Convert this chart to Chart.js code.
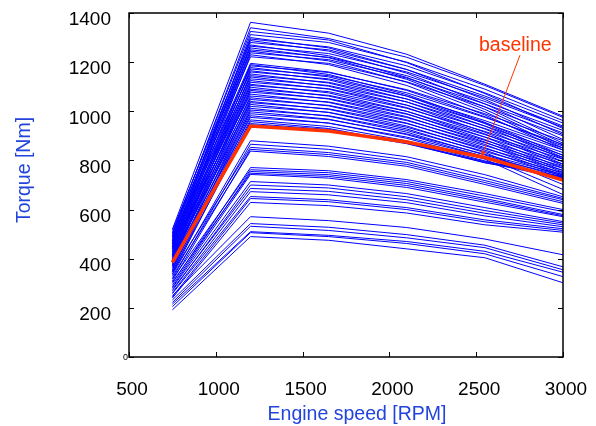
<!DOCTYPE html>
<html>
<head>
<meta charset="utf-8">
<script src="https://cdn.jsdelivr.net/npm/chart.js@4/dist/chart.umd.min.js"></script>
<style>
  html, body { margin: 0; padding: 0; background: #ffffff; }
  canvas { display: block; }
</style>
</head>
<body>
<canvas id="c" width="596" height="426" style="width:596px;height:426px"></canvas>
<script>
// ---- data ----
const speeds = [750, 1200, 1650, 2100, 2550, 3000];
const xTicks = [500, 1000, 1500, 2000, 2500, 3000];
const yTicks = [0, 200, 400, 600, 800, 1000, 1200, 1400];
const baseline = [385, 940, 920, 875, 812, 720];
const baselineLabel = 'baseline';
const xTitle = 'Engine speed [RPM]';
const yTitle = 'Torque [Nm]';
const curves = [
  [520, 1362, 1318, 1232, 1110, 980],
  [498, 1340, 1296, 1220, 1105, 975],
  [505, 1325, 1290, 1198, 1072, 930],
  [470, 1312, 1280, 1200, 1090, 962],
  [488, 1300, 1258, 1170, 1048, 905],
  [515, 1294, 1262, 1185, 1075, 952],
  [460, 1288, 1245, 1155, 1030, 885],
  [495, 1280, 1250, 1170, 1062, 940],
  [478, 1270, 1226, 1138, 1018, 870],
  [450, 1265, 1235, 1160, 1055, 935],
  [505, 1258, 1218, 1130, 1008, 862],
  [440, 1250, 1220, 1145, 1040, 922],
  [485, 1245, 1205, 1118, 998, 850],
  [462, 1238, 1210, 1135, 1030, 912],
  [430, 1230, 1190, 1105, 985, 842],
  [475, 1222, 1195, 1120, 1018, 900],
  [468, 1195, 1160, 1085, 978, 858],
  [420, 1190, 1150, 1068, 955, 820],
  [455, 1185, 1158, 1088, 990, 880],
  [490, 1178, 1140, 1062, 950, 812],
  [410, 1172, 1145, 1075, 975, 865],
  [445, 1165, 1128, 1050, 940, 806],
  [472, 1160, 1132, 1062, 962, 850],
  [400, 1152, 1115, 1038, 928, 795],
  [438, 1145, 1118, 1050, 952, 842],
  [462, 1140, 1102, 1025, 915, 785],
  [415, 1132, 1105, 1038, 940, 832],
  [450, 1125, 1090, 1015, 908, 778],
  [428, 1118, 1092, 1025, 930, 822],
  [395, 1110, 1075, 1000, 895, 768],
  [442, 1105, 1080, 1012, 918, 812],
  [418, 1098, 1062, 990, 885, 758],
  [385, 1090, 1065, 1000, 905, 805],
  [432, 1085, 1050, 978, 875, 752],
  [405, 1078, 1052, 988, 895, 795],
  [448, 1070, 1036, 965, 865, 745],
  [390, 1062, 1038, 975, 882, 785],
  [425, 1055, 1022, 952, 852, 740],
  [375, 1048, 1024, 962, 872, 775],
  [412, 1040, 1008, 940, 842, 735],
  [398, 1035, 1010, 950, 860, 768],
  [365, 1028, 995, 928, 832, 702],
  [408, 1020, 996, 935, 848, 760],
  [380, 1012, 980, 915, 822, 730],
  [355, 1005, 982, 922, 836, 750],
  [392, 998, 968, 905, 815, 682],
  [370, 990, 966, 908, 825, 742],
  [345, 982, 952, 890, 805, 661],
  [382, 975, 952, 895, 815, 738],
  [360, 965, 938, 880, 798, 728],
  [338, 958, 930, 870, 790, 735],
  [372, 950, 926, 872, 795, 732],
  [350, 945, 922, 868, 792, 726],
  [335, 880, 858, 815, 742, 652],
  [320, 866, 845, 802, 728, 645],
  [345, 853, 832, 792, 718, 640],
  [310, 845, 824, 784, 710, 632],
  [328, 838, 816, 776, 702, 625],
  [300, 771, 758, 722, 665, 600],
  [318, 762, 750, 714, 655, 592],
  [292, 755, 742, 706, 645, 580],
  [305, 748, 735, 698, 638, 575],
  [285, 743, 728, 690, 630, 571],
  [282, 714, 700, 665, 608, 551],
  [270, 700, 688, 652, 596, 545],
  [275, 686, 674, 640, 585, 538],
  [262, 673, 660, 628, 574, 530],
  [258, 653, 640, 608, 558, 522],
  [245, 645, 632, 600, 550, 515],
  [240, 629, 616, 586, 538, 508],
  [250, 571, 555, 527, 480, 416],
  [232, 543, 528, 498, 455, 367],
  [222, 532, 515, 485, 445, 355],
  [215, 510, 495, 470, 430, 345],
  [205, 506, 490, 462, 420, 327],
  [192, 490, 475, 440, 404, 302]
];
// annotation anchor points (data units)
const labelAt = [2725, 1268];
const arrowFrom = [2752, 1228];
const arrowTo = [2530, 814];

// ---- styles ----
const FONT = "'Liberation Sans', Arial, Helvetica, sans-serif";
const BLUE = '#0000ff';
const RED = '#ff3300';
const TITLE_BLUE = '#2244dd';

const toPts = arr => arr.map((v, i) => ({ x: speeds[i], y: v }));

const datasets = [{
  data: toPts(baseline),
  borderColor: RED,
  borderWidth: 3.5,
  pointRadius: 0,
  order: 0
}].concat(curves.map(c => ({
  data: toPts(c),
  borderColor: BLUE,
  borderWidth: 1,
  pointRadius: 0,
  order: 1
})));

const framePlugin = {
  id: 'frame',
  afterDatasetsDraw(chart) {
    const { ctx, chartArea: a, scales: { x, y } } = chart;
    ctx.save();
    ctx.strokeStyle = '#000';
    ctx.lineWidth = 1.5;
    ctx.strokeRect(a.left, a.top, a.right - a.left, a.bottom - a.top);
    ctx.lineWidth = 1;
    const L = 5;
    ctx.beginPath();
    xTicks.forEach(t => {
      const px = Math.round(x.getPixelForValue(t)) + 0.5;
      ctx.moveTo(px, a.bottom); ctx.lineTo(px, a.bottom - L);
      ctx.moveTo(px, a.top); ctx.lineTo(px, a.top + L);
    });
    yTicks.forEach(t => {
      const py = Math.round(y.getPixelForValue(t)) + 0.5;
      ctx.moveTo(a.left, py); ctx.lineTo(a.left + L, py);
      ctx.moveTo(a.right, py); ctx.lineTo(a.right - L, py);
    });
    ctx.stroke();

    // small zero label
    ctx.fillStyle = '#000';
    ctx.font = '9px ' + FONT;
    ctx.textAlign = 'right';
    ctx.textBaseline = 'middle';
    ctx.fillText('0', a.left - 1, y.getPixelForValue(0) + 1);

    // axis titles
    ctx.fillStyle = TITLE_BLUE;
    ctx.font = '19.5px ' + FONT;
    ctx.textAlign = 'center';
    ctx.textBaseline = 'middle';
    ctx.fillText(xTitle, 357, 415);
    ctx.save();
    ctx.translate(25, 170);
    ctx.rotate(-Math.PI / 2);
    ctx.fillText(yTitle, 0, 0);
    ctx.restore();

    // baseline annotation
    const fx = x.getPixelForValue(arrowFrom[0]), fy = y.getPixelForValue(arrowFrom[1]);
    const tx = x.getPixelForValue(arrowTo[0]), ty = y.getPixelForValue(arrowTo[1]);
    ctx.strokeStyle = RED;
    ctx.fillStyle = RED;
    ctx.lineWidth = 1;
    ctx.beginPath();
    ctx.moveTo(fx, fy); ctx.lineTo(tx, ty); ctx.stroke();
    const ang = Math.atan2(ty - fy, tx - fx);
    const h = 6, w = 2.5;
    ctx.beginPath();
    ctx.moveTo(tx, ty);
    ctx.lineTo(tx - h * Math.cos(ang) + w * Math.sin(ang), ty - h * Math.sin(ang) - w * Math.cos(ang));
    ctx.lineTo(tx - h * Math.cos(ang) - w * Math.sin(ang), ty - h * Math.sin(ang) + w * Math.cos(ang));
    ctx.closePath(); ctx.fill();
    ctx.font = '19.5px ' + FONT;
    ctx.textAlign = 'center';
    ctx.textBaseline = 'middle';
    ctx.fillText(baselineLabel, x.getPixelForValue(labelAt[0]), y.getPixelForValue(labelAt[1]));
    ctx.restore();
  }
};

const zeroPad = s => { s.paddingLeft = 0; s.paddingRight = 0; s.paddingTop = 0; s.paddingBottom = 0; };

new Chart(document.getElementById('c'), {
  type: 'line',
  data: { datasets },
  plugins: [framePlugin],
  options: {
    responsive: false,
    animation: false,
    devicePixelRatio: 1,
    layout: { padding: { top: 13, right: 33, left: 0, bottom: 0 } },
    plugins: { legend: { display: false }, tooltip: { enabled: false } },
    elements: { line: { tension: 0 } },
    scales: {
      x: {
        type: 'linear', min: 500, max: 3000,
        afterBuildTicks: s => { s.ticks = xTicks.map(v => ({ value: v })); },
        grid: { display: false, drawTicks: false },
        border: { display: false },
        ticks: { color: '#000', font: { family: FONT, size: 19 }, padding: 21, labelOffset: 3, maxRotation: 0,
                 callback: v => String(v) },
        afterFit: s => { s.height = 69; zeroPad(s); }
      },
      y: {
        type: 'linear', min: 0, max: 1400,
        afterBuildTicks: s => { s.ticks = yTicks.map(v => ({ value: v })); },
        grid: { display: false, drawTicks: false },
        border: { display: false },
        ticks: { color: '#000', font: { family: FONT, size: 19 }, padding: 18, labelOffset: 7,
                 callback: v => (v === 0 ? '' : String(v)) },
        afterFit: s => { s.width = 129; zeroPad(s); }
      }
    }
  }
});
</script>
</body>
</html>
